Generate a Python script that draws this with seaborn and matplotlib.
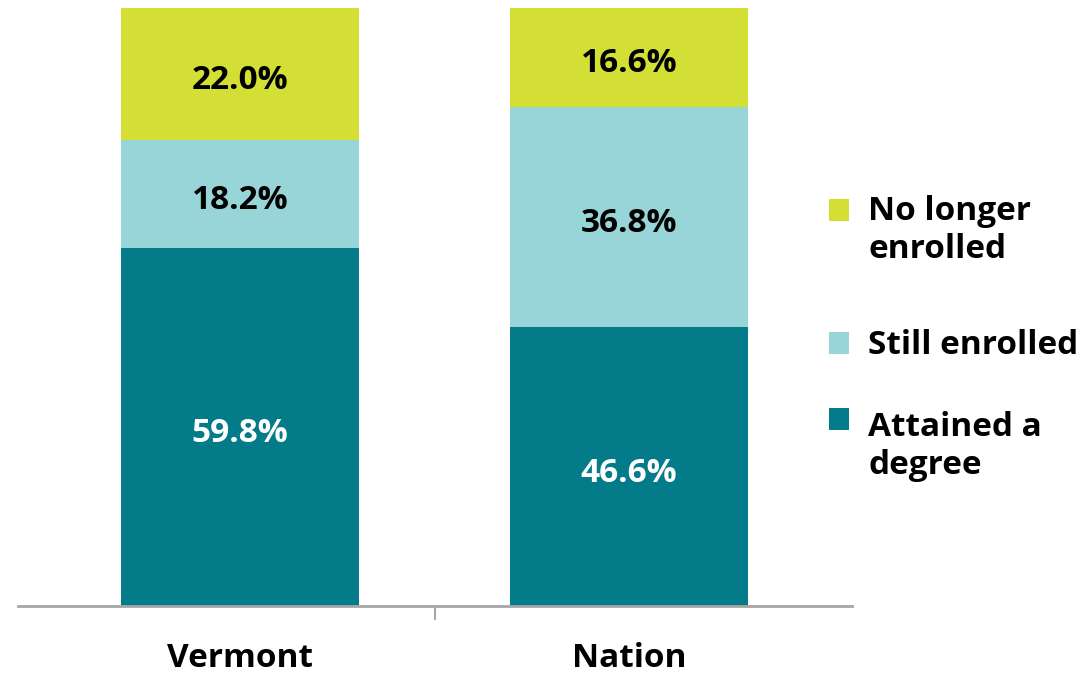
import pandas as pd
import matplotlib.pyplot as plt
import seaborn as sns
from matplotlib.patches import Rectangle

sns.set_style('white')
plt.rcParams['font.family'] = ['Open Sans', 'DejaVu Sans']
plt.rcParams['text.color'] = 'black'
plt.rcParams['xtick.color'] = 'black'

# 数据
regions = ['Vermont', 'Nation']
attained = [59.8, 46.6]
still_enrolled = [18.2, 36.8]
no_longer = [22.0, 16.6]

series_names = ['Attained a\ndegree', 'Still enrolled', 'No longer\nenrolled']
colors = ['#037b88', '#98d5d8', '#d4df36']
text_colors = ['white', 'black', 'black']

df = pd.DataFrame({'region': regions, 'attained': attained,
                   'still': still_enrolled, 'no_longer': no_longer})
df['c1'] = df['attained']
df['c2'] = df['c1'] + df['still']
df['c3'] = df['c2'] + df['no_longer']

fig = plt.figure(figsize=(10.82, 6.75), dpi=100)
ax = fig.add_axes([0.0166, 0.1022, 0.7708, 0.886])

# 叠放：从最高的累计值开始画
for col, color in zip(['c3', 'c2', 'c1'], colors[::-1]):
    sns.barplot(data=df, x='region', y=col, color=color, width=0.614,
                saturation=1, ax=ax, edgecolor='none', linewidth=0)

# 数值标签
for seg, cum, tc in zip(['attained', 'still', 'no_longer'], ['c1', 'c2', 'c3'], text_colors):
    for i, row in df.iterrows():
        ax.text(i, row[cum] - row[seg] / 2 - 0.4, f'{row[seg]:.1f}%', ha='center', va='center_baseline',
                color=tc, fontsize=24, fontweight='bold')

ax.set_ylim(0, 100)
ax.set_xlim(-0.571, 1.573)
ax.set_ylabel('')
ax.set_xlabel('')
ax.set_yticks([])
for s in ['top', 'right', 'left']:
    ax.spines[s].set_visible(False)
ax.spines['bottom'].set_color('#a6a6a6')
ax.spines['bottom'].set_linewidth(2)
ax.set_xticks([0.5], minor=True)
ax.tick_params(axis='x', which='major', length=0, pad=26, labelsize=24)
ax.tick_params(axis='x', which='minor', bottom=True, length=10, width=1.5, color='#a6a6a6')
for lab in ax.get_xticklabels():
    lab.set_fontweight('bold')

# 图例（手动绘制）
W, H = 1082, 675
legend_items = [(series_names[2], colors[2], 199, 195), (series_names[1], colors[1], 332, 329),
                (series_names[0], colors[0], 408, 411)]
for name, color, ytop, ytext in legend_items:
    fig.patches.append(Rectangle((829 / W, 1 - (ytop + 22) / H), 20 / W, 22 / H,
                                 transform=fig.transFigure, facecolor=color, edgecolor='none'))
    fig.text(868 / W, 1 - ytext / H, name, ha='left', va='top', fontsize=24,
             fontweight='bold', linespacing=1.2)

plt.savefig('out.png', dpi=100)
